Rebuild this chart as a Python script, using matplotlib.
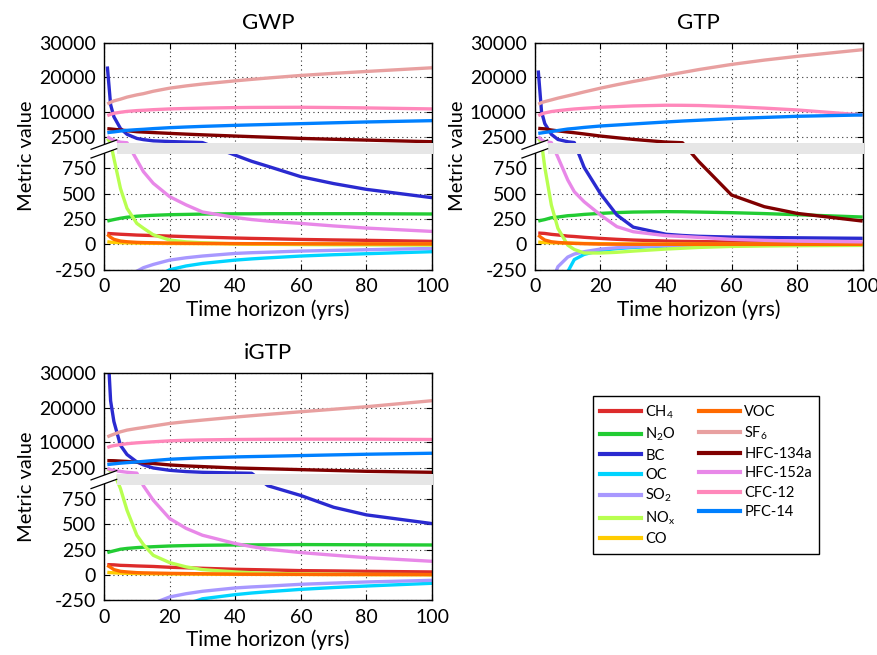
import numpy as np
import matplotlib
matplotlib.use("Agg")
import matplotlib.pyplot as plt
from matplotlib.patches import Polygon, Rectangle
from matplotlib.lines import Line2D

plt.rcParams['font.family'] = ['Lato', 'DejaVu Sans']
plt.rcParams['mathtext.fontset'] = 'custom'
plt.rcParams['mathtext.rm'] = 'Lato'
plt.rcParams['mathtext.it'] = 'Lato:italic'

# time horizons (yrs)
H = [1, 2, 3, 5, 7, 10, 12, 15, 20, 25, 30, 40, 45, 50, 60, 70, 80, 100]

species = ['CH4', 'N2O', 'BC', 'OC', 'SO2', 'NOx', 'CO',
           'VOC', 'SF6', 'HFC-134a', 'HFC-152a', 'CFC-12', 'PFC-14']
labels = [r'CH$_4$', r'N$_2$O', 'BC', 'OC', r'SO$_2$', r'NO$_\mathregular{x}$', 'CO',
          'VOC', r'SF$_6$', 'HFC-134a', 'HFC-152a', 'CFC-12', 'PFC-14']
colors = ['#dd2b2b', '#22cc33', '#2a2ad0', '#00d4ff', '#a898ff', '#b8ff50', '#ffcc00',
          '#ff6a00', '#e8a0a0', '#800000', '#e888e8', '#ff88bb', '#0080ff']

# --- GWP ---
gwp_ch4 = [108, 106, 104, 100, 97, 92, 90, 87, 82, 77, 72, 63, 59, 56, 49, 44, 40, 30]
gwp_n2o = [230, 238, 245, 258, 268, 278, 282, 287, 293, 296, 299, 302, 302, 303, 303, 303, 303, 300]
gwp_bc = [23100, 12000, 8500, 5100, 3400, 2200, 1850, 1500, 1300, 1150, 1000, 880, 820, 770, 668, 600, 543, 461]
gwp_oc = [-5000, -2500, -1700, -1000, -720, -500, -420, -340, -250, -213, -188, -155, -143, -133, -115, -102, -92, -72]
gwp_so2 = [-3000, -1500, -1000, -600, -430, -265, -230, -198, -155, -132, -115, -89, -82, -77, -66, -59, -53, -40]
gwp_nox = [2200, 1000, 850, 553, 356, 207, 160, 95, 43, 25, 16, 5, 3, 1, -2, -4, -5, -7]
gwp_co = [26, 22, 20, 17, 15, 13, 12, 11, 9, 8, 7, 6, 5, 5, 4, 4, 3, 3]
gwp_voc = [99, 70, 50, 33, 26, 20, 18, 16, 13, 11, 10, 8, 7, 7, 6, 5, 5, 4]
gwp_sf6 = [12200, 12700, 13100, 13600, 14200, 14850, 15200, 15900, 16800, 17450, 18000, 18930, 19350, 19750, 20490, 21100, 21650, 22720]
gwp_hfc134a = [5030, 4950, 4850, 4650, 4450, 4150, 4050, 3900, 3670, 3450, 3250, 2890, 2720, 2550, 2210, 1950, 1720, 1240]
gwp_hfc152a = [2700, 2100, 1700, 1100, 950, 833, 718, 603, 471, 390, 320, 265, 245, 230, 207, 182, 161, 128]
gwp_cfc12 = [8820, 9200, 9500, 9800, 10050, 10280, 10380, 10550, 10770, 10900, 11000, 11150, 11200, 11220, 11250, 11170, 11060, 10770]
gwp_pfc14 = [3865, 4000, 4100, 4350, 4550, 4740, 4850, 5050, 5320, 5520, 5700, 6000, 6130, 6250, 6490, 6740, 6980, 7360]

# --- GTP ---
gtp_ch4 = [112, 110, 108, 99, 93, 82, 78, 70, 59, 50, 43, 33, 30, 28, 23, 18, 14, 7]
gtp_n2o = [230, 238, 245, 263, 270, 283, 287, 296, 306, 314, 319, 323, 322, 319, 313, 304, 293, 270]
gtp_bc = [21940, 10000, 6500, 3400, 1900, 1240, 1000, 760, 500, 290, 170, 100, 88, 80, 72, 68, 65, 60]
gtp_oc = [-8000, -4000, -2500, -1200, -600, -270, -150, -99, -59, -42, -30, -16, -14, -13, -10, -9, -8, -7]
gtp_so2 = [-5000, -2000, -1000, -380, -220, -125, -95, -72, -46, -33, -23, -13, -11, -9, -7, -6, -5, -3]
gtp_nox = [2200, 1000, 760, 389, 158, -7, -50, -85, -85, -78, -66, -46, -38, -30, -20, -16, -13, -10]
gtp_co = [23, 20, 18, 16, 15, 13, 11, 9, 7, 5, 4, 3, 3, 2, 2, 2, 1, 1]
gtp_voc = [92, 65, 43, 26, 19, 13, 10, 7, 3, 2, 1, 1, 0, 0, 0, 0, 0, 0]
gtp_sf6 = [12130, 12600, 12900, 13390, 13900, 14560, 15000, 15700, 16800, 17800, 18740, 20490, 21350, 22200, 23690, 24950, 26030, 27970]
gtp_hfc134a = [5130, 5050, 4980, 4640, 4400, 4060, 3850, 3500, 2890, 2400, 1920, 1140, 950, 817, 487, 372, 306, 230]
gtp_hfc152a = [2700, 1800, 1240, 1000, 860, 636, 520, 421, 290, 175, 125, 86, 78, 69, 50, 40, 32, 25]
gtp_cfc12 = [8820, 9300, 9600, 10000, 10250, 10570, 10750, 10950, 11250, 11450, 11640, 11840, 11820, 11760, 11450, 11000, 10470, 9020]
gtp_pfc14 = [3670, 3800, 3950, 4200, 4500, 4930, 5100, 5400, 5810, 6100, 6400, 6980, 7250, 7480, 7950, 8300, 8630, 9020]

# --- iGTP ---
igtp_ch4 = [102, 101, 100, 95, 93, 89, 87, 84, 76, 71, 66, 56, 53, 50, 43, 40, 36, 30]
igtp_n2o = [221, 230, 238, 254, 262, 270, 274, 279, 286, 290, 293, 296, 297, 298, 300, 299, 298, 296]
igtp_bc = [40000, 22000, 16000, 9100, 6400, 4250, 3400, 2500, 1820, 1450, 1240, 1050, 960, 880, 784, 668, 593, 507]
igtp_oc = [-8000, -4500, -3000, -1600, -1100, -800, -650, -520, -400, -290, -235, -194, -178, -165, -142, -124, -109, -82]
igtp_so2 = [-4000, -2200, -1500, -900, -650, -450, -380, -280, -217, -185, -161, -128, -118, -110, -92, -80, -69, -53]
igtp_nox = [2300, 1600, 1200, 853, 639, 392, 300, 194, 122, 80, 53, 30, 22, 16, 10, 7, 5, 3]
igtp_co = [26, 23, 21, 18, 16, 14, 13, 12, 10, 9, 8, 6, 6, 5, 5, 4, 4, 3]
igtp_voc = [95, 75, 53, 36, 30, 23, 21, 19, 16, 14, 12, 8, 7, 7, 6, 5, 5, 4]
igtp_sf6 = [11540, 11950, 12300, 13000, 13500, 13970, 14250, 14700, 15430, 15950, 16400, 17280, 17680, 18070, 18830, 19560, 20290, 22040]
igtp_hfc134a = [4640, 4620, 4600, 4500, 4400, 4160, 4000, 3800, 3380, 3100, 2900, 2500, 2380, 2260, 2020, 1770, 1530, 1240]
igtp_hfc152a = [2310, 2000, 1800, 1500, 1250, 1000, 880, 738, 557, 460, 392, 310, 280, 254, 221, 195, 171, 135]
igtp_cfc12 = [8430, 8800, 9000, 9300, 9550, 9800, 9930, 10100, 10380, 10550, 10650, 10770, 10800, 10830, 10860, 10860, 10860, 10770]
igtp_pfc14 = [3480, 3600, 3700, 3900, 4050, 4250, 4400, 4650, 5030, 5250, 5450, 5710, 5810, 5900, 6100, 6300, 6490, 6780]

yticks = [-250, 0, 250, 500, 750, 2500, 10000, 20000, 30000]
xticks = [0, 20, 40, 60, 80, 100]

panels = [
    ('GWP', [gwp_ch4, gwp_n2o, gwp_bc, gwp_oc, gwp_so2, gwp_nox, gwp_co, gwp_voc,
             gwp_sf6, gwp_hfc134a, gwp_hfc152a, gwp_cfc12, gwp_pfc14]),
    ('GTP', [gtp_ch4, gtp_n2o, gtp_bc, gtp_oc, gtp_so2, gtp_nox, gtp_co, gtp_voc,
             gtp_sf6, gtp_hfc134a, gtp_hfc152a, gtp_cfc12, gtp_pfc14]),
    ('iGTP', [igtp_ch4, igtp_n2o, igtp_bc, igtp_oc, igtp_so2, igtp_nox, igtp_co, igtp_voc,
              igtp_sf6, igtp_hfc134a, igtp_hfc152a, igtp_cfc12, igtp_pfc14]),
]

# broken y axis: linear below 900, compressed linear above
Y_BRK = [-1e5, 900, 901, 1e6]
T_BRK = [-1e5 / 9.87, 900 / 9.87, 106.97 - 1599 / 290.5, 106.97 + (1e6 - 2500) / 290.5]


def fwd(y):
    return np.interp(y, Y_BRK, T_BRK)


def inv(t):
    return np.interp(t, T_BRK, Y_BRK)


fig = plt.figure(figsize=(8.78, 6.55), dpi=100)
rects = [[0.1185, 0.5882, 0.3736, 0.3466],
         [0.6093, 0.5882, 0.3732, 0.3466],
         [0.1185, 0.0835, 0.3736, 0.3466]]

for (title, series), rect in zip(panels, rects):
    ax = fig.add_axes(rect)
    ax.set_yscale('function', functions=(fwd, inv))
    for vals, col in zip(series, colors):
        ax.plot(H, vals, color=col, lw=2.4, solid_capstyle='butt')
    ax.set_xlim(0, 100)
    ax.set_ylim(-250, 30000)
    ax.set_yticks(yticks)
    ax.set_yticklabels([str(v) for v in yticks])
    ax.set_xticks(xticks)
    ax.set_xticklabels([str(v) for v in xticks])
    ax.yaxis.set_minor_locator(matplotlib.ticker.NullLocator())
    ax.grid(True, linestyle=(0, (1, 3)), color='#333333', lw=0.8)
    ax.tick_params(direction='in', length=4, width=0.8, top=True, right=True,
                   labelsize=14, pad=6)
    for sp in ax.spines.values():
        sp.set_linewidth(1.0)
    ax.set_title(title, fontsize=16, pad=10)
    ax.set_xlabel('Time horizon (yrs)', fontsize=15, labelpad=3)
    ax.set_ylabel('Metric value', fontsize=14.5, labelpad=3)

    # break band
    ax.add_patch(Rectangle((0.0387, 0.5097), 1.004 - 0.0387, 0.0471, transform=ax.transAxes,
                           facecolor='#e6e6e6', edgecolor='none', zorder=4, clip_on=False))
    x0, x1 = -0.0396, 0.0387
    ax.add_patch(Polygon([(x0, 0.5304), (x1, 0.5714), (x1, 0.5330), (x0, 0.4921)],
                         closed=True, transform=ax.transAxes, facecolor='white',
                         edgecolor='none', zorder=5, clip_on=False))
    ax.add_line(Line2D([x0, x1], [0.5304, 0.5714], transform=ax.transAxes, color='black',
                       lw=0.9, zorder=6, clip_on=False))
    ax.add_line(Line2D([x0, x1], [0.4921, 0.5330], transform=ax.transAxes, color='black',
                       lw=0.9, zorder=6, clip_on=False))

handles = [Line2D([], [], color=c, lw=3) for c in colors]
leg = fig.legend(handles, labels, ncol=2, loc='upper left',
                 bbox_to_anchor=(592.7 / 878, 1 - 396 / 655), fontsize=10.5,
                 frameon=True, fancybox=False, edgecolor='black', framealpha=1,
                 handlelength=2.8, handletextpad=0.3, columnspacing=1.6,
                 labelspacing=0.36, borderpad=0.5, borderaxespad=0)
leg.get_frame().set_linewidth(1.0)

fig.savefig('out.png', dpi=100)
